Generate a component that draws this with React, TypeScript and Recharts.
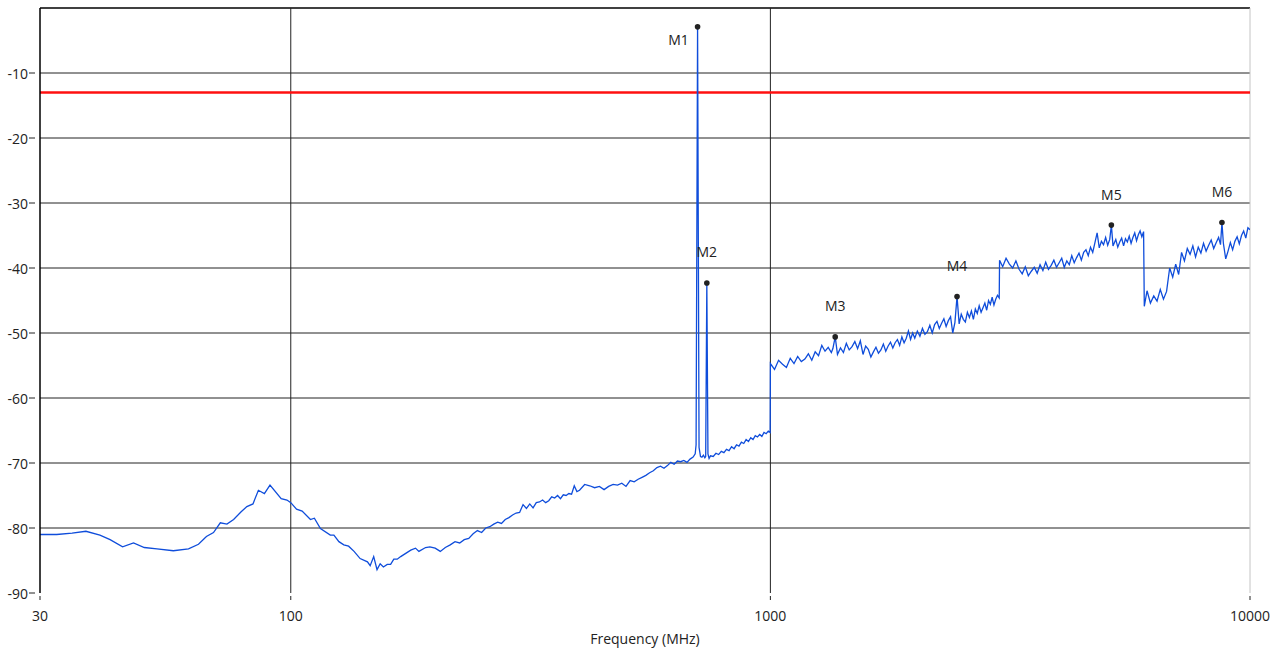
import {
  ComposedChart,
  Line,
  Scatter,
  XAxis,
  YAxis,
  ReferenceLine,
  Label,
} from "recharts";

// sweep readings, [frequency MHz, level dB]
const lowBand: [number, number][] = [
  [30, -81.0], [32.5, -81.0], [35, -80.8], [37.4, -80.5], [40, -81.1], [42, -81.8], [44.6, -82.9],
  [47, -82.3], [49.5, -83.0], [52.6, -83.2], [56.9, -83.5], [61.2, -83.2], [64.2, -82.5], [66.7, -81.3],
  [69, -80.7], [71.3, -79.2], [73.6, -79.4], [76, -78.7], [78.8, -77.5], [81, -76.7], [83.4, -76.3],
  [85.6, -74.2], [88.1, -74.7], [90.5, -73.4], [95.5, -75.5], [98.2, -75.7], [100, -76.1], [102.8, -77.1],
  [105.6, -77.4], [109.9, -78.7], [112, -78.5], [115.3, -80.1], [120.9, -81.1], [123, -81.1], [126, -82.1],
  [129, -82.6], [132, -82.8], [135.5, -83.6], [139.5, -84.7], [144.5, -85.2], [146.4, -85.8], [148.9, -84.4],
  [151.3, -86.4], [153.6, -85.5], [156, -86.0], [158.9, -85.6], [161.5, -85.6], [164, -84.8], [166.7, -84.8],
  [169.5, -84.4], [177.9, -83.4], [182, -83.1], [185, -83.6], [191, -83.0], [195, -82.9],
];

const midBand: [number, number][] = [
  [200, -83.1], [205, -83.6], [210, -83.0], [215, -82.6], [220, -82.1], [225, -82.3], [230, -81.8],
  [235, -81.6], [240, -80.9], [245, -80.4], [250, -80.7], [255, -80.0], [260, -79.8], [265, -79.4],
  [270, -79.1], [275, -79.3], [280, -78.7], [285, -78.4], [290, -78.0], [295, -77.7], [300, -77.6],
  [305, -76.4], [310, -77.0], [315, -76.3], [320, -76.9], [325, -76.1], [330, -76.0], [335, -75.7],
  [340, -76.1], [345, -75.8], [350, -75.2], [355, -75.4], [360, -75.0], [365, -75.5], [370, -74.9],
  [375, -75.0], [380, -74.7], [385, -74.8], [390, -73.5], [395, -74.4], [400, -74.2], [410, -73.3],
  [420, -73.5], [430, -73.8], [440, -73.6], [450, -74.1], [460, -73.6], [470, -73.3], [480, -73.4],
  [490, -73.1], [500, -73.6], [510, -72.7], [520, -72.9], [530, -72.5], [540, -72.2], [550, -71.9],
  [560, -71.5], [570, -71.2], [580, -70.7], [590, -70.5], [600, -70.8], [610, -70.4], [620, -69.9],
  [630, -70.2], [640, -69.7], [650, -69.8], [660, -69.6], [670, -69.9], [680, -69.4], [690, -69.1],
  [697, -68.6], [700, -67.2], [705, -2.9], [710, -67.6], [715, -69.0], [720, -69.1], [725, -68.8],
  [730, -69.2], [733, -69.0], [737, -42.3], [741, -68.6], [745, -69.3], [750, -68.9], [760, -69.0],
  [770, -68.5], [780, -68.7], [790, -68.2], [800, -68.4], [810, -67.9], [820, -68.1], [830, -67.5],
  [840, -67.8], [850, -67.2], [860, -67.4], [870, -66.8], [880, -67.0], [890, -66.4], [900, -66.7],
  [910, -66.1], [920, -66.4], [930, -65.8], [940, -66.0], [950, -65.6], [960, -65.9], [970, -65.3],
  [980, -65.5], [990, -65.1], [999, -65.3],
];

const highBand: [number, number][] = [
  [1000, -54.7], [1020, -55.6], [1040, -54.2], [1060, -54.8], [1080, -55.3], [1100, -53.9], [1120, -54.7],
  [1140, -53.6], [1160, -54.4], [1180, -54.0], [1200, -53.2], [1220, -54.2], [1240, -52.9], [1260, -53.5],
  [1280, -51.9], [1300, -52.8], [1320, -52.2], [1340, -53.0], [1350, -52.4], [1365, -50.6], [1380, -53.3],
  [1400, -52.3], [1420, -53.0], [1440, -51.6], [1460, -52.6], [1480, -52.1], [1500, -51.3], [1520, -52.4],
  [1540, -51.2], [1560, -53.3], [1580, -52.0], [1600, -52.5], [1620, -53.7], [1640, -52.9], [1660, -52.2],
  [1680, -53.1], [1700, -52.6], [1720, -51.7], [1740, -52.8], [1760, -52.0], [1780, -51.4], [1800, -52.3],
  [1820, -51.5], [1840, -51.0], [1860, -51.9], [1880, -50.6], [1900, -51.5], [1920, -50.8], [1940, -49.7],
  [1960, -51.0], [1980, -50.0], [2000, -50.8], [2025, -49.7], [2050, -50.5], [2075, -49.3], [2100, -50.2],
  [2125, -49.8], [2150, -48.8], [2175, -50.0], [2200, -48.7], [2225, -48.2], [2250, -49.3], [2275, -48.5],
  [2300, -47.8], [2325, -49.0], [2350, -48.1], [2375, -47.5], [2400, -50.0], [2425, -48.4], [2450, -44.4],
  [2475, -48.6], [2500, -47.1], [2525, -47.9], [2550, -48.3], [2575, -46.8], [2600, -47.6], [2625, -46.6],
  [2650, -47.9], [2675, -46.3], [2700, -47.0], [2725, -45.8], [2750, -46.8], [2775, -46.1], [2800, -45.4],
  [2825, -46.5], [2850, -45.0], [2875, -45.6], [2900, -44.5], [2925, -45.7], [2950, -44.8], [2975, -44.2],
  [3000, -44.6],
];

const topBand: [number, number][] = [
  [3005, -38.8], [3050, -39.8], [3100, -38.5], [3150, -39.4], [3200, -40.0], [3250, -38.9], [3300, -40.2],
  [3350, -40.9], [3400, -39.8], [3450, -41.2], [3500, -40.5], [3550, -39.9], [3600, -40.8], [3650, -39.5],
  [3700, -40.4], [3750, -39.1], [3800, -40.2], [3850, -39.6], [3900, -38.8], [3950, -39.9], [4000, -39.2],
  [4050, -38.5], [4100, -39.9], [4150, -38.9], [4200, -39.5], [4250, -38.1], [4300, -39.2], [4350, -38.4],
  [4400, -37.7], [4450, -38.8], [4500, -37.6], [4550, -37.2], [4600, -38.1], [4650, -36.8], [4700, -37.6],
  [4750, -36.1], [4800, -34.6], [4850, -36.9], [4900, -35.9], [4950, -36.4], [5000, -35.3], [5050, -36.5],
  [5100, -35.6], [5140, -33.4], [5180, -36.6], [5250, -35.6], [5300, -36.8], [5350, -36.0], [5400, -35.4],
  [5450, -36.6], [5500, -35.5], [5550, -36.0], [5600, -35.1], [5650, -36.2], [5700, -35.3], [5750, -34.6],
  [5800, -35.8], [5850, -34.9], [5900, -34.3], [5950, -35.2], [6000, -34.4], [6020, -45.9], [6100, -43.5],
  [6200, -45.4], [6300, -44.3], [6400, -45.1], [6500, -43.3], [6600, -44.8], [6700, -43.6], [6800, -40.0],
  [6900, -41.4], [7000, -39.4], [7100, -41.0], [7200, -37.6], [7300, -38.9], [7400, -37.0], [7500, -37.9],
  [7600, -36.6], [7700, -38.3], [7800, -36.8], [7900, -37.7], [8000, -36.2], [8100, -37.4], [8200, -36.5],
  [8300, -35.7], [8400, -37.0], [8500, -36.1], [8600, -35.3], [8680, -36.4], [8740, -33.0], [8800, -36.2],
  [8900, -38.6], [9000, -37.4], [9100, -36.1], [9200, -37.2], [9300, -35.9], [9400, -35.2], [9500, -36.3],
  [9600, -35.0], [9700, -34.3], [9800, -35.4], [9900, -33.8], [10000, -34.1],
];

const markerNames = ["M1", "M2", "M3", "M4", "M5", "M6"];
const markerFreqs = [705, 737, 1365, 2450, 5140, 8740];
const markerLevels = [-2.9, -42.3, -50.6, -44.4, -33.4, -33.0];

const limitLevel = -13;
const levelTicks = [0, -10, -20, -30, -40, -50, -60, -70, -80, -90];
const freqTicks = [30, 100, 1000, 10000];
const gridLevels = [0, -10, -20, -30, -40, -50, -60, -70, -80];
const gridFreqs = [100, 1000];

const trace = [...lowBand, ...midBand, ...highBand, ...topBand].map(([freq, level]) => ({ freq, level }));
const markers = markerNames.map((name, i) => ({ name, freq: markerFreqs[i], level: markerLevels[i] }));

const FONT = '"Open Sans", sans-serif';

function YTick(props: any) {
  const { x, y, payload } = props;
  return (
    <g>
      <line x1={x - 3} x2={x + 3} y1={y} y2={y} stroke="#222" />
      <text x={x - 4} y={y} textAnchor="end" dominantBaseline="central" fontSize={14} fill="#222" fontFamily={FONT}>
        {payload.value}
      </text>
    </g>
  );
}

function XTick(props: any) {
  const { x, y, payload } = props;
  return (
    <g>
      <line x1={x} x2={x} y1={y - 5} y2={y - 1} stroke="#222" />
      <text x={x} y={y + 14} textAnchor="middle" dominantBaseline="central" fontSize={14} fill="#222" fontFamily={FONT}>
        {payload.value}
      </text>
    </g>
  );
}

function MarkerGlyph(props: any) {
  const { cx, cy, payload } = props;
  // labels sit above the dot unless that would run off the top of the plot
  const nearTop = cy < 45;
  const lx = nearTop ? cx - 19 : cx;
  const ly = nearTop ? cy + 13 : cy - 31;
  return (
    <g>
      <circle cx={cx} cy={cy} r={2.8} fill="#222" />
      <text x={lx} y={ly} textAnchor="middle" dominantBaseline="central" fontSize={14} fill="#222" fontFamily={FONT}>
        {payload.name}
      </text>
    </g>
  );
}

export default function App() {
  return (
    <div style={{ position: "absolute", left: 0, top: 0, width: 1282, height: 653, background: "#fff" }}>
      <ComposedChart width={1282} height={653} data={trace} margin={{ top: 8, right: 32, bottom: 0, left: 0 }}>
        <XAxis
          dataKey="freq"
          type="number"
          scale="log"
          domain={[30, 10000]}
          ticks={freqTicks}
          allowDataOverflow
          axisLine={false}
          tickLine={false}
          tickSize={8}
          tickMargin={0}
          tick={<XTick />}
          height={60}
        >
          <Label
            value="Frequency (MHz)"
            position="insideBottom"
            offset={9}
            style={{ fontSize: 14, fill: "#222", fontFamily: FONT }}
          />
        </XAxis>
        <YAxis
          type="number"
          domain={[-90, 0]}
          ticks={levelTicks}
          width={40}
          axisLine={{ stroke: "#000", strokeWidth: 1.5 }}
          tickLine={false}
          tickSize={8}
          tickMargin={0}
          tick={<YTick />}
        />
        {gridLevels.map((v) => (
          <ReferenceLine key={"h" + v} y={v} stroke={v === 0 ? "#000" : "#222"} strokeWidth={v === 0 ? 1.5 : 1} />
        ))}
        {gridFreqs.map((f) => (
          <ReferenceLine key={"v" + f} x={f} stroke="#222" strokeWidth={1} />
        ))}
        <ReferenceLine x={10000} stroke="#c4c4c4" strokeWidth={1} />
        <ReferenceLine y={limitLevel} stroke="#ff1010" strokeWidth={2.5} />
        <Line
          dataKey="level"
          type="linear"
          stroke="#0f4ddb"
          strokeWidth={1.3}
          dot={false}
          activeDot={false}
          isAnimationActive={false}
        />
        <Scatter data={markers} dataKey="level" shape={<MarkerGlyph />} isAnimationActive={false} />
      </ComposedChart>
    </div>
  );
}
